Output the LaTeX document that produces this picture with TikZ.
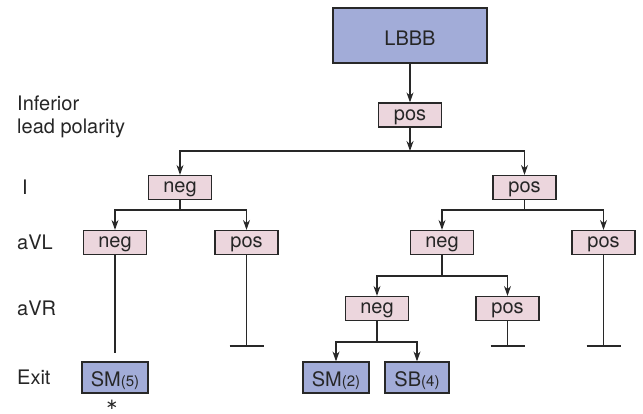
\documentclass[tikz,border=0pt]{standalone}
\usepackage{fontspec}
\setmainfont{TeX Gyre Heros}
\newfontfamily\symfont{DejaVu Sans}
\usetikzlibrary{arrows.meta}
\definecolor{boxblue}{RGB}{162,172,216}
\definecolor{boxpink}{RGB}{236,214,221}
\definecolor{edge}{RGB}{40,40,40}
\tikzset{
  base/.style={draw=edge, line width=1.2pt, inner sep=0pt, anchor=center,
    font=\fontsize{20}{20}\selectfont, text=black!85},
  polbox/.style={base, fill=boxpink, minimum width=63pt, minimum height=24pt,
    text height=14pt, text depth=4pt},
  exitbox/.style={base, fill=boxblue, minimum width=66pt, minimum height=31pt,
    text height=17pt, text depth=0pt},
  rowlabel/.style={anchor=west, inner sep=0pt, font=\fontsize{20}{23}\selectfont, text=black!85, align=left},
  link/.style={draw=edge, line width=1.2pt},
  arr/.style={link, -{Stealth[length=10pt, width=7pt]}},
}
\newcommand{\sub}[1]{{\fontsize{15}{15}\selectfont(#1)}}
\begin{document}
\begin{tikzpicture}[x=1pt, y=-1pt]
\useasboundingbox (0,0) rectangle (643,413);

% row labels
\node[rowlabel] (lab0) at (17,116.5) {Inferior\\lead polarity};
\node[rowlabel] (lab1) at (22,187.5) {I};
\node[rowlabel] (lab2) at (17,242.5) {aVL};
\node[rowlabel] (lab3) at (17,308.5) {aVR};
\node[rowlabel] (lab4) at (17,377.5) {Exit};

% root and inferior-lead node
\node[base, fill=boxblue, minimum width=154pt, minimum height=55pt,
  text height=19pt, text depth=0pt] (lbbb) at (410,35.5) {LBBB};
\node[polbox] (inf) at (410,115) {pos};

% lead I
\node[polbox] (iNeg) at (180,187.5) {neg};
\node[polbox] (iPos) at (524.5,187.5) {pos};

% aVL
\node[polbox] (lNeg) at (115,242.5) {neg};
\node[polbox] (lPos) at (246.5,242.5) {pos};
\node[polbox] (rNeg) at (442,242.5) {neg};
\node[polbox] (rPos) at (603.5,242.5) {pos};

% aVR
\node[polbox] (vNeg) at (377,308.5) {neg};
\node[polbox] (vPos) at (507.5,308.5) {pos};

% exit sites
\node[exitbox] (sm5) at (115,377.5) {SM\sub{5}};
\node[exitbox] (sm2) at (336,377.5) {SM\sub{2}};
\node[exitbox, minimum width=64pt] (sb4) at (417,377.5) {SB\sub{4}};
\node[inner sep=0pt, anchor=base, font=\symfont\fontsize{15}{15}\selectfont, text=black!85]
  (star) at (112,409.5) {∗};

% junctions and line ends
\coordinate (j0) at (410,151);
\coordinate (j1) at (180,210);
\coordinate (j2) at (524.5,210);
\coordinate (j3) at (442,276);
\coordinate (j4) at (377,342);
\coordinate (e1) at (115,353);
\coordinate (t1) at (246.5,346);
\coordinate (t2) at (507.5,346);
\coordinate (t3) at (603.5,346);

% connectors
\draw[arr] (lbbb.south -| inf.north) -- (inf.north);
\draw[arr] (inf.south) -- (j0);
\draw[arr] (j0) -| (iNeg.north);
\draw[arr] (j0) -| (iPos.north);

\draw[link] (iNeg.south) -- (j1);
\draw[arr] (j1) -| (lNeg.north);
\draw[arr] (j1) -| (lPos.north);

\draw[link] (iPos.south) -- (j2);
\draw[arr] (j2) -| (rNeg.north);
\draw[arr] (j2) -| (rPos.north);

\draw[link] (rNeg.south) -- (j3);
\draw[arr] (j3) -| (vNeg.north);
\draw[arr] (j3) -| (vPos.north);

\draw[link] (vNeg.south) -- (j4);
\draw[arr] (j4) -| (sm2.north);
\draw[arr] (j4) -| (sb4.north);

\draw[link] (lNeg.south) -- (e1);

% terminated branches
\draw[link] (lPos.south) -- (t1) ++(-17,0) -- ++(34,0);
\draw[link] (vPos.south) -- (t2) ++(-17,0) -- ++(34,0);
\draw[link] (rPos.south) -- (t3) ++(-17,0) -- ++(34,0);
\end{tikzpicture}
\end{document}
